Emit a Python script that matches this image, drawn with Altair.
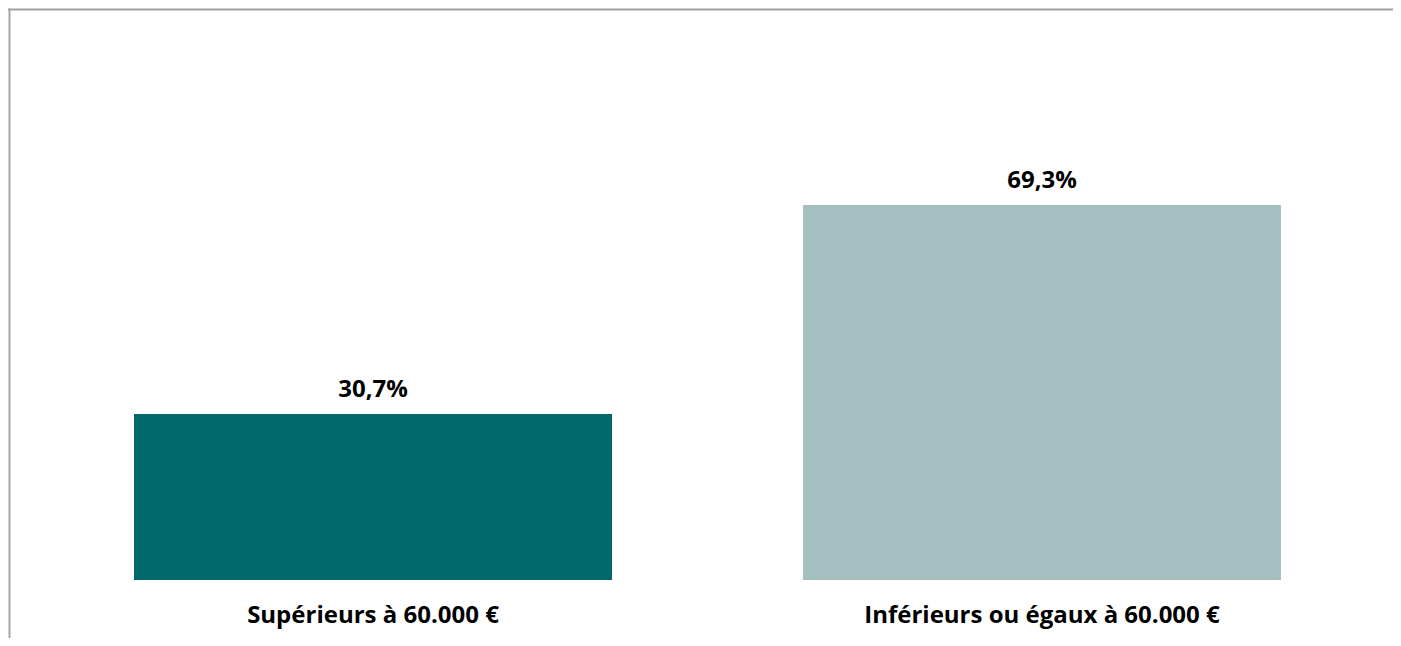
import altair as alt
import pandas as pd

categories = ["Supérieurs à 60.000 €", "Inférieurs ou égaux à 60.000 €"]
values = [30.7, 69.3]
colors = ["#00676B", "#A6BFC0"]
value_labels = [f"{v:.1f}".replace(".", ",") + "%" for v in values]

df = pd.DataFrame({"cat": categories, "val": values, "lab": value_labels, "col": colors})

W, H = 1385, 630
FONT = "Open Sans"

x = alt.X("cat:N", sort=categories, axis=None,
          scale=alt.Scale(range=[126, 1273], paddingInner=0.2855, paddingOuter=0))
y = alt.Y("val:Q", axis=None, scale=alt.Scale(domain=[0, 100], range=[572, 31]))

bars = alt.Chart(df).mark_bar().encode(
    x=x, y=y, color=alt.Color("col:N", scale=None)
)

vlabels = alt.Chart(df).mark_text(
    font=FONT, fontWeight="bold", fontSize=24, baseline="alphabetic", dy=-17, color="black"
).encode(x=x, y=y, text="lab:N")

clabels = alt.Chart(df).mark_text(
    font=FONT, fontWeight="bold", fontSize=24, baseline="alphabetic", color="black"
).encode(x=x, y=alt.value(615), text="cat:N")

border_df = pd.DataFrame({"k": ["top"]})
top_rule = alt.Chart(border_df).mark_rule(color="#A0A0A0", strokeWidth=2).encode(
    x=alt.value(0), x2=alt.value(W), y=alt.value(1.5)
)
left_rule = alt.Chart(border_df).mark_rule(color="#A6A6A6", strokeWidth=2).encode(
    x=alt.value(1.5), y=alt.value(0.5), y2=alt.value(H)
)

chart = alt.layer(bars, vlabels, clabels, top_rule, left_rule).properties(
    width=W, height=H, autosize=alt.AutoSizeParams(type="none"), padding=0
).configure_view(stroke=None)

chart.save("out.html", embed_options={"renderer": "svg", "actions": False})
